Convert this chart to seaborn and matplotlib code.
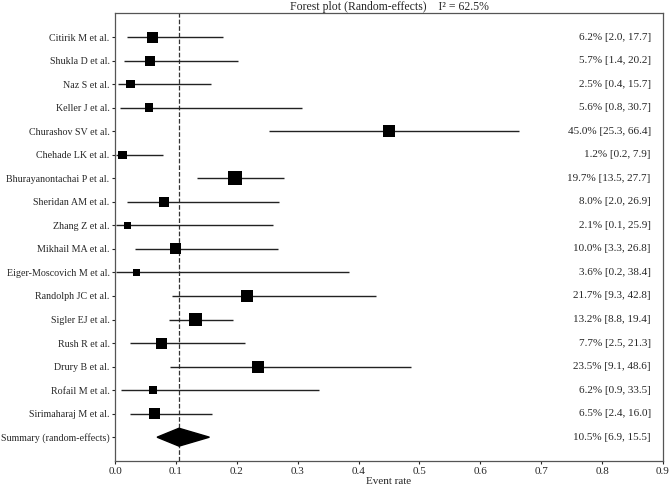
import pandas as pd
import seaborn as sns
import matplotlib.pyplot as plt


STUDIES = ['Citirik M et al.', 'Shukla D et al.', 'Naz S et al.', 'Keller J et al.',
           'Churashov SV et al.', 'Chehade LK et al.', 'Bhurayanontachai P et al.',
           'Sheridan AM et al.', 'Zhang Z et al.', 'Mikhail MA et al.',
           'Eiger-Moscovich M et al.', 'Randolph JC et al.', 'Sigler EJ et al.',
           'Rush R et al.', 'Drury B et al.', 'Rofail M et al.', 'Sirimaharaj M et al.']
RATE = [6.2, 5.7, 2.5, 5.6, 45.0, 1.2, 19.7, 8.0, 2.1, 10.0, 3.6, 21.7, 13.2, 7.7, 23.5, 6.2, 6.5]
LOWER = [2.0, 1.4, 0.4, 0.8, 25.3, 0.2, 13.5, 2.0, 0.1, 3.3, 0.2, 9.3, 8.8, 2.5, 9.1, 0.9, 2.4]
UPPER = [17.7, 20.2, 15.7, 30.7, 66.4, 7.9, 27.7, 26.9, 25.9, 26.8, 38.4, 42.8, 19.4, 21.3, 48.6, 33.5, 16.0]
# relative study weights (%)
WEIGHT = [6.5, 5.4, 3.9, 3.9, 7.7, 3.9, 10.5, 5.4, 2.6, 6.5, 2.6, 7.7, 9.1, 6.5, 7.7, 3.9, 6.5]

SUMMARY_LABEL = 'Summary (random-effects)'
SUMMARY = (10.5, 6.9, 15.5)
I2 = 62.5

XTICKS = [0.0, 0.1, 0.2, 0.3, 0.4, 0.5, 0.6, 0.7, 0.8, 0.9]


def build_frame():
    df = pd.DataFrame({'study': STUDIES, 'rate': RATE, 'lower': LOWER,
                       'upper': UPPER, 'weight': WEIGHT})
    df['row'] = range(len(df))
    for col in ['rate', 'lower', 'upper']:
        df[col + '_p'] = df[col] / 100
    df['label'] = df.apply(lambda r: '{:.1f}% [{:.1f}, {:.1f}]'.format(r.rate, r.lower, r.upper), axis=1)
    return df


def forest_plot(df):
    sns.set_theme(style='ticks')
    plt.rcParams['font.family'] = ['Liberation Serif', 'DejaVu Serif']

    fig, ax = plt.subplots(figsize=(6.69, 4.87), dpi=100)
    fig.subplots_adjust(left=0.172, right=0.991, bottom=0.053, top=0.973)

    # Confidence intervals
    ax.hlines(df['row'], df['lower_p'], df['upper_p'], color='#222222', linewidth=1.0, zorder=2)

    # Point estimates, square size by weight
    sns.scatterplot(data=df, x='rate_p', y='row', marker='s', color='black',
                    s=df['weight'] * 9.7, edgecolor='black', linewidth=0, zorder=3, ax=ax)

    # Summary diamond
    n = len(df)
    est, lo, hi = [v / 100 for v in SUMMARY]
    ax.fill([lo, est, hi, est], [n, n - 0.38, n, n + 0.38], color='black', zorder=3)
    ax.axvline(est, color='#333333', linestyle='--', linewidth=0.9, zorder=1)

    # Text on the right
    for _, r in df.iterrows():
        ax.text(0.88, r.row, r.label, ha='right', va='center', fontsize=8)
    ax.text(0.88, n, '{:.1f}% [{:.1f}, {:.1f}]'.format(*SUMMARY), ha='right', va='center', fontsize=8)

    ax.set_yticks(list(range(n + 1)))
    ax.set_yticklabels(STUDIES + [SUMMARY_LABEL], fontsize=7.2)
    ax.set_ylim(n + 1.02, -1.02)
    ax.set_xlim(0, 0.9)
    ax.set_xticks(XTICKS)
    ax.set_xticklabels(['{:.1f}'.format(t) for t in XTICKS], fontsize=8)
    ax.tick_params(length=2.5, width=0.8, pad=1.5)
    ax.set_xlabel('Event rate', fontsize=8, labelpad=1)
    ax.set_ylabel('')
    ax.set_title('Forest plot (Random-effects)    I\u00b2 = {}%'.format(I2), fontsize=8.5, pad=2)

    for spine in ax.spines.values():
        spine.set_visible(True)
        spine.set_color('#555555')
        spine.set_linewidth(0.9)

    fig.savefig('out.png', dpi=100)


if __name__ == '__main__':
    df = build_frame()
    forest_plot(df)
